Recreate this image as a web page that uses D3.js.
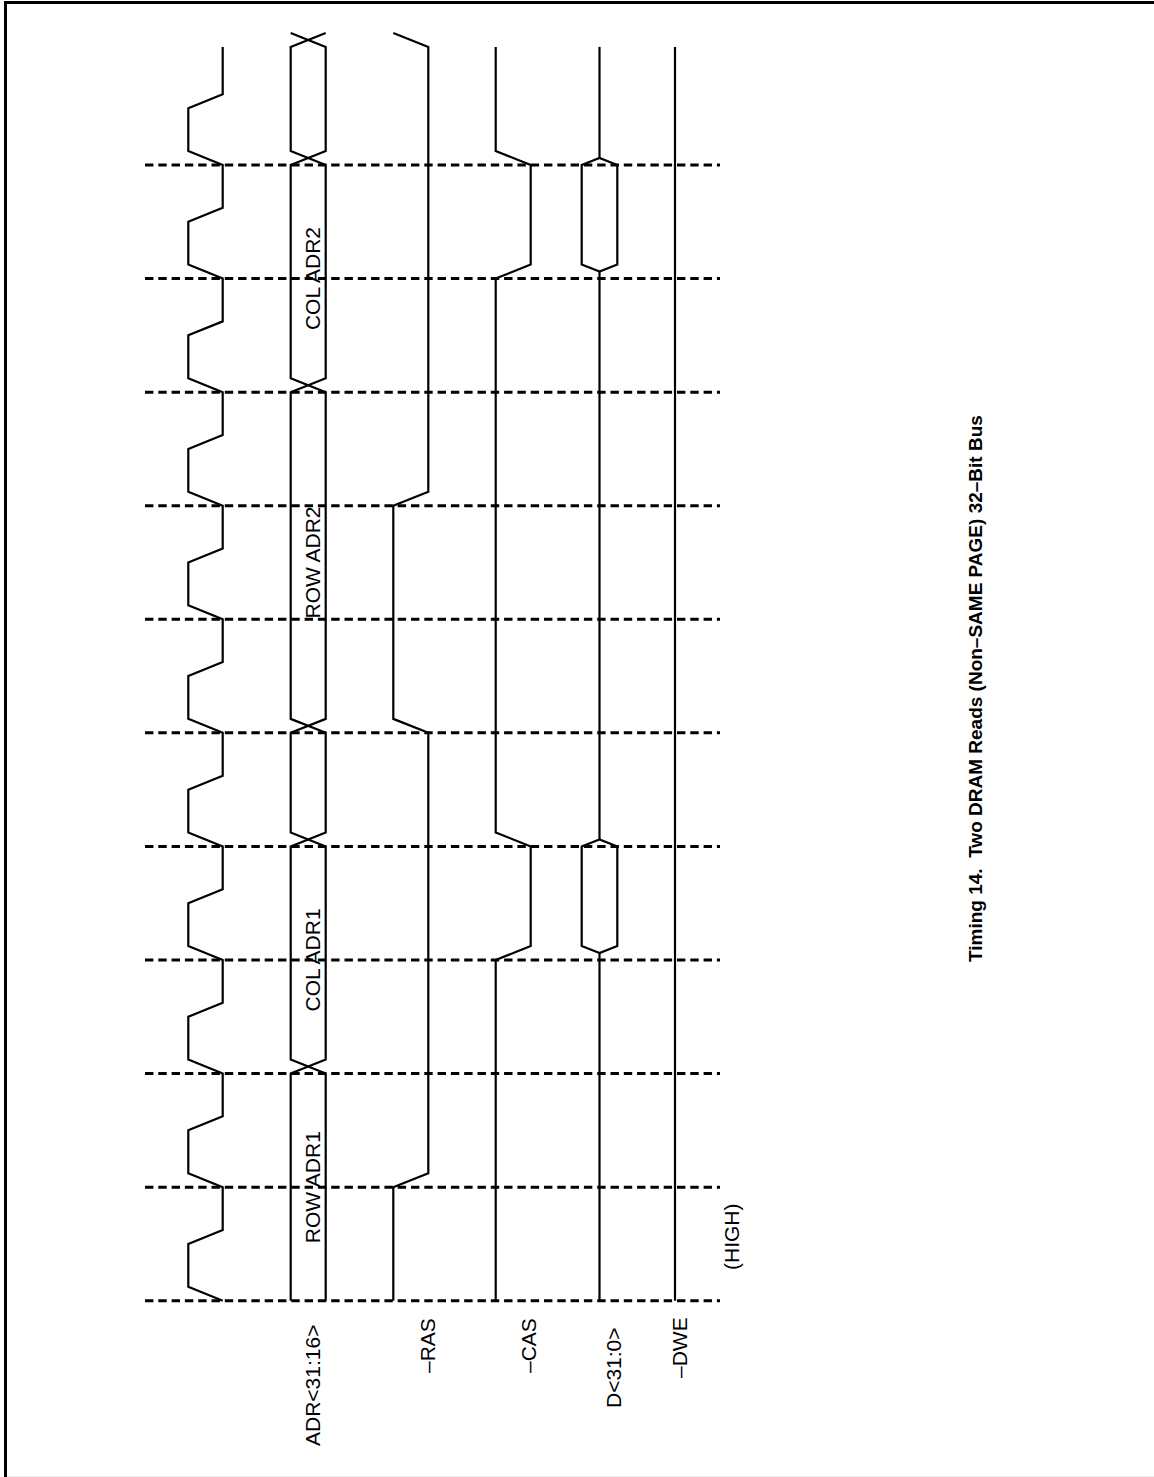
<!DOCTYPE html>
<html><head><meta charset="utf-8">
<script src="https://cdn.jsdelivr.net/npm/d3@7"></script>
<style>html,body{margin:0;padding:0;background:#fff;} svg{display:block;}</style>
</head><body><svg id="c" width="1154" height="1477"></svg>
<script>
// ---- data ----
const cycles = [0,1,2,3,4,5,6,7,8,9,10];
const clockRise = [0,1,2,3,4,5,6,7,8,9,10];
const clockFall = [0.5,1.5,2.5,3.5,4.5,5.5,6.5,7.5,8.5,9.5,10.5];
const signalNames = ["ADR<31:16>","\u2013RAS","\u2013CAS","D<31:0>","\u2013DWE"];
const adrEdges = [2,4,5,8,10,11.04];
const adrValues = ["ROW ADR1","COL ADR1","","ROW ADR2","COL ADR2",""];
const rasEdges = [1,5,7,11.04];
const casEdges = [3,4,9,10];
const dataValid = [[3,4],[9,10]];
const dweNote = "(HIGH)";
const title = "Timing 14.  Two DRAM Reads (Non\u2013SAME PAGE) 32\u2013Bit Bus";
const tEnd = 11.04;
const tr = 0.123;

// ---- layout ----
const svg = d3.select("#c");
const y = d3.scaleLinear().domain([0,10]).range([1300.7,165]);
const lvl = (a,b) => d3.scaleOrdinal().domain(["high","low"]).range([a,b]);
const xClk = lvl(188.3,222.7), xAdr = lvl(290.7,325.7), xRas = lvl(393.3,428.3), xCas = lvl(495.7,530.7);
const dCenter = 599.5, dHalf = 17.8, xDwe = 675;
const font = "'Liberation Sans', Arial, Helvetica, sans-serif";

// frame
svg.append("rect").attr("x",0).attr("y",0).attr("width",1154).attr("height",1477).attr("fill","#fff");
svg.append("line").attr("x1",4).attr("x2",1154).attr("y1",2.5).attr("y2",2.5).attr("stroke","#000").attr("stroke-width",3);
svg.append("line").attr("x1",5.5).attr("x2",5.5).attr("y1",1).attr("y2",1477).attr("stroke","#000").attr("stroke-width",3);
svg.append("line").attr("x1",7).attr("x2",1154).attr("y1",1476.5).attr("y2",1476.5).attr("stroke","#eee").attr("stroke-width",1);

// dashed cycle lines
svg.append("g").selectAll("line").data(cycles).join("line")
  .attr("x1",145).attr("x2",720).attr("y1",d=>y(d)).attr("y2",d=>y(d))
  .attr("stroke","#000").attr("stroke-width",3).attr("stroke-dasharray","8.4,4.9");

function wave(start, edges, endT){
  let l = start; const pts = [[0,l]];
  edges.forEach(e=>{ pts.push([e,l]); l = l==="high"?"low":"high"; pts.push([e+tr,l]); });
  if (pts[pts.length-1][0] < endT) pts.push([endT,l]);
  return pts;
}
function draw(pts, xs){
  svg.append("path").attr("d", d3.line().x(d=>xs(d[1])).y(d=>y(d[0]))(pts))
    .attr("fill","none").attr("stroke","#000").attr("stroke-width",2.2).attr("stroke-linejoin","miter");
}
const clkEdges = clockRise.concat(clockFall).sort((a,b)=>a-b);
draw(wave("low", clkEdges, tEnd), xClk);
draw(wave("high", adrEdges, tEnd), xAdr);
draw(wave("low", adrEdges, tEnd), xAdr);
draw(wave("high", rasEdges, tEnd), xRas);
draw(wave("high", casEdges, tEnd), xCas);

// data bus
const dLine = d3.line().x(d=>d[0]).y(d=>y(d[1]));
let segStart = 0;
dataValid.forEach(([s,e])=>{
  svg.append("path").attr("d", dLine([[dCenter,segStart],[dCenter,s+tr/2]])).attr("stroke","#000").attr("stroke-width",2.2).attr("fill","none");
  svg.append("path").attr("d", dLine([[dCenter,s+tr/2],[dCenter-dHalf,s+tr],[dCenter-dHalf,e],[dCenter,e+tr/2],[dCenter+dHalf,e],[dCenter+dHalf,s+tr],[dCenter,s+tr/2]])+"Z")
    .attr("stroke","#000").attr("stroke-width",2.2).attr("fill","none");
  segStart = e+tr/2;
});
svg.append("path").attr("d", dLine([[dCenter,segStart],[dCenter,tEnd]])).attr("stroke","#000").attr("stroke-width",2.2).attr("fill","none");

// DWE
svg.append("line").attr("x1",xDwe).attr("x2",xDwe).attr("y1",y(0)).attr("y2",y(tEnd)).attr("stroke","#000").attr("stroke-width",2.2);

// rotated text helper
function vtext(x, yy, txt, anchor, size, weight){
  svg.append("text").attr("transform",`translate(${x},${yy}) rotate(-90)`)
    .attr("text-anchor",anchor).attr("font-family",font).attr("font-size",size)
    .attr("font-weight",weight||"normal").style("white-space","pre").attr("fill","#000").text(txt);
}
// ADR values
const bounds = [0].concat(adrEdges);
adrValues.forEach((v,i)=>{ if(v) vtext(319.5, y((bounds[i]+bounds[i+1])/2), v, "middle", 21); });

// signal labels
const labelPos = [[319.5,1446],[435,1373],[536,1373],[621,1408],[687,1378]];
signalNames.forEach((n,i)=>vtext(labelPos[i][0], labelPos[i][1], n, "start", 21));
vtext(739, 1270, dweNote, "start", 21);
vtext(982, 962, title, "start", 19, "bold");
</script></body></html>
